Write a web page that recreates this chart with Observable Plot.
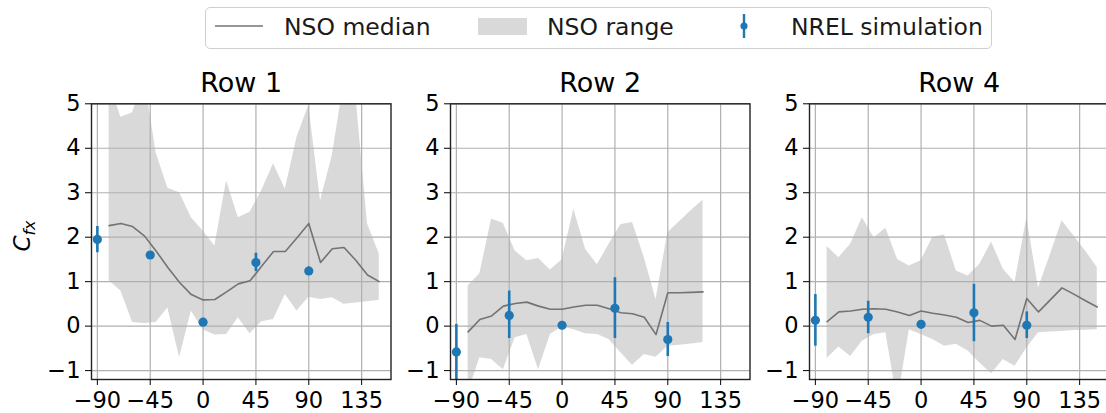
<!DOCTYPE html>
<html><head><meta charset="utf-8">
<script src="https://cdn.jsdelivr.net/npm/d3@7"></script>
<script src="https://cdn.jsdelivr.net/npm/@observablehq/plot@0.6"></script>
<style>
html,body{margin:0;padding:0;background:#fff;overflow:hidden;width:1106px;height:413px;}
#root{position:relative;width:1106px;height:413px;font-family:"DejaVu Sans",sans-serif;color:#000;overflow:hidden;}
.panel{position:absolute;top:50px;}
#legend{position:absolute;left:205px;top:7px;width:787px;height:42px;border:1px solid #cfcfcf;border-radius:5px;box-sizing:border-box;}
.lt{position:absolute;top:10.5px;font-size:23.5px;line-height:30px;white-space:nowrap;color:#1a1a1a;}
#ylab{position:absolute;left:24px;top:236px;transform:translate(-50%,-50%) rotate(-90deg);font-size:23px;white-space:nowrap;}
#ylab sub{font-size:16px;}
</style></head>
<body><div id="root"></div>
<script>
// ---- data ----
const anglesFull = [-80, -70, -60, -50, -40, -30, -20, -10, 0, 10, 20, 30, 40, 50, 60, 70, 80, 90, 100, 110, 120, 130, 140, 150];
const anglesRow2 = [-80, -70, -60, -50, -40, -30, -20, -10, 0, 10, 20, 30, 40, 50, 60, 70, 80, 90, 100, 110, 120];

const row1Median = [2.26, 2.31, 2.24, 2.03, 1.69, 1.32, 0.98, 0.71, 0.59, 0.60, 0.77, 0.95, 1.02, 1.35, 1.68, 1.68, 1.99, 2.31, 1.43, 1.74, 1.77, 1.48, 1.15, 1.00];
const row1Min    = [1.02, 0.79, 0.08, 0.06, 0.08, 0.41, -0.71, 0.34, -0.08, -0.20, -0.19, 0.19, -0.17, 0.10, 0.15, 0.71, 0.34, 0.65, 0.60, 0.64, 0.49, 0.52, 0.55, 0.58];
const row1Max    = [5.50, 4.70, 4.80, 5.60, 3.90, 3.10, 3.00, 2.44, 2.14, 1.80, 3.27, 2.44, 2.56, 3.05, 3.65, 3.08, 4.25, 4.96, 2.82, 3.83, 5.50, 5.20, 2.30, 1.62];

const row2Median = [-0.13, 0.15, 0.23, 0.45, 0.51, 0.54, 0.45, 0.38, 0.38, 0.43, 0.47, 0.47, 0.39, 0.30, 0.28, 0.20, -0.19, 0.75, 0.75, 0.76, 0.77];
const row2Min    = [-1.50, -0.71, -0.75, -0.98, -0.26, -0.19, -0.98, -0.19, -0.02, -0.08, -0.17, -0.19, -0.30, -0.60, -0.88, -0.64, -0.70, -0.45, -0.43, -0.40, -0.37];
const row2Max    = [0.90, 1.18, 2.41, 2.31, 1.69, 1.47, 1.52, 1.26, 1.49, 2.63, 1.73, 1.38, 1.84, 2.28, 2.33, 1.54, 0.60, 2.10, 2.35, 2.60, 2.83];

const row4Median = [0.10, 0.32, 0.34, 0.38, 0.39, 0.38, 0.32, 0.24, 0.34, 0.29, 0.25, 0.20, 0.08, 0.13, 0.00, 0.02, -0.30, 0.62, 0.32, 0.59, 0.86, 0.72, 0.57, 0.43];
const row4Min    = [-0.73, -0.47, -0.68, -0.34, -0.19, -0.15, -1.70, -0.08, -0.19, -0.30, -0.45, -0.41, -0.56, -0.83, -1.07, -0.75, -0.90, -0.49, -0.15, -0.13, -0.12, -0.10, -0.09, -0.08];
const row4Max    = [1.79, 1.54, 1.84, 2.44, 1.99, 2.20, 1.50, 1.35, 1.47, 2.00, 2.05, 1.24, 1.13, 1.39, 1.89, 1.28, 0.98, 2.44, 0.86, 1.60, 2.37, 2.03, 1.69, 1.32];

const nrelAngles = [-90, -45, 0, 45, 90];
const row1Nrel   = [1.95, 1.60, 0.09, 1.43, 1.24];
const row1NrelLo = [1.65, 1.55, 0.06, 1.23, 1.15];
const row1NrelHi = [2.24, 1.65, 0.12, 1.64, 1.33];
const row2Nrel   = [-0.58, 0.24, 0.02, 0.40, -0.30];
const row2NrelLo = [-1.20, -0.28, 0.00, -0.28, -0.68];
const row2NrelHi = [0.04, 0.79, 0.04, 1.09, 0.08];
const row4Nrel   = [0.13, 0.20, 0.04, 0.30, 0.02];
const row4NrelLo = [-0.45, -0.17, 0.02, -0.35, -0.28];
const row4NrelHi = [0.71, 0.56, 0.06, 0.94, 0.32];

const titles = ["Row 1", "Row 2", "Row 4"];
const xTicks = [-90, -45, 0, 45, 90, 135];
const yTicks = [-1, 0, 1, 2, 3, 4, 5];
const legendLabels = ["NSO median", "NSO range", "NREL simulation"];

// ---- build tables ----
const band = (a, lo, med, hi) => a.map((v, i) => ({angle: v, lo: lo[i], med: med[i], hi: hi[i]}));
const pts = (val, lo, hi) => nrelAngles.map((v, i) => ({angle: v, val: val[i], lo: lo[i], hi: hi[i]}));
const panels = [
  {title: titles[0], left: 90.7, band: band(anglesFull, row1Min, row1Median, row1Max), nrel: pts(row1Nrel, row1NrelLo, row1NrelHi)},
  {title: titles[1], left: 450,  band: band(anglesRow2, row2Min, row2Median, row2Max), nrel: pts(row2Nrel, row2NrelLo, row2NrelHi)},
  {title: titles[2], left: 809.3, band: band(anglesFull, row4Min, row4Median, row4Max), nrel: pts(row4Nrel, row4NrelLo, row4NrelHi)}
];

const fmt = d => d < 0 ? "\u2212" + Math.abs(d) : String(d);
const blue = "#1f77b4";
const root = document.getElementById("root");
const mL = 60, mR = 10, frameW = 299.5;

for (const p of panels) {
  const chart = Plot.plot({
    width: mL + frameW + mR,
    height: 363,
    marginLeft: mL, marginRight: mR, marginTop: 53.3, marginBottom: 34,
    style: {fontFamily: "DejaVu Sans, sans-serif", fontSize: "22.5px", color: "#000", background: "transparent", overflow: "visible"},
    x: {domain: [-95, 160], axis: null, label: null},
    y: {domain: [-1.2, 5], axis: null, label: null},
    marks: [
      Plot.areaY(p.band, {x: "angle", y1: "lo", y2: "hi", fill: "#808080", fillOpacity: 0.3, clip: true}),
      Plot.gridX(xTicks, {stroke: "#b0b0b0", strokeOpacity: 1, strokeWidth: 1.2}),
      Plot.gridY(yTicks, {stroke: "#b0b0b0", strokeOpacity: 1, strokeWidth: 1.2}),
      Plot.line(p.band, {x: "angle", y: "med", stroke: "#737373", strokeWidth: 1.6, clip: true}),
      Plot.ruleX(p.nrel, {x: "angle", y1: "lo", y2: "hi", stroke: blue, strokeWidth: 2.6, clip: true}),
      Plot.dot(p.nrel, {x: "angle", y: "val", r: 4.6, fill: blue, stroke: null}),
      Plot.frame({stroke: "#222", strokeWidth: 1.4}),
      Plot.axisX({ticks: xTicks, tickSize: 6, tickPadding: 7, tickFormat: fmt, label: null}),
      Plot.axisY({ticks: yTicks, tickSize: 6, tickPadding: 5, tickFormat: fmt, label: null}),
      Plot.text([p.title], {text: d => d, frameAnchor: "top", lineAnchor: "middle", dy: -20, fontSize: 27})
    ]
  });
  chart.classList.add("panel");
  chart.style.left = (p.left - mL) + "px";
  root.appendChild(chart);
}

// y label
const yl = document.createElement("div");
yl.id = "ylab";
yl.innerHTML = "<i>C</i><sub><i>fx</i></sub>";
root.appendChild(yl);

// legend
const lg = document.createElement("div");
lg.id = "legend";
root.appendChild(lg);
const ns = "http://www.w3.org/2000/svg";
const sym = document.createElementNS(ns, "svg");
sym.setAttribute("width", 787); sym.setAttribute("height", 42);
sym.style.position = "absolute"; sym.style.left = "-1px"; sym.style.top = "-1px";
sym.innerHTML =
  `<line x1="10" x2="58" y1="19" y2="19" stroke="#737373" stroke-width="1.6"/>` +
  `<rect x="273" y="11" width="49" height="17" fill="#808080" fill-opacity="0.3"/>` +
  `<line x1="539" x2="539" y1="7" y2="31" stroke="${blue}" stroke-width="2.4"/>` +
  `<circle cx="539" cy="19" r="3.6" fill="${blue}"/>`;
lg.appendChild(sym);
const lx = [78, 341, 585];
legendLabels.forEach((t, i) => {
  const d = document.createElement("div");
  d.className = "lt";
  d.style.left = lx[i] + "px";
  d.style.top = "3.5px";
  d.textContent = t;
  lg.appendChild(d);
});
</script>
</body></html>
